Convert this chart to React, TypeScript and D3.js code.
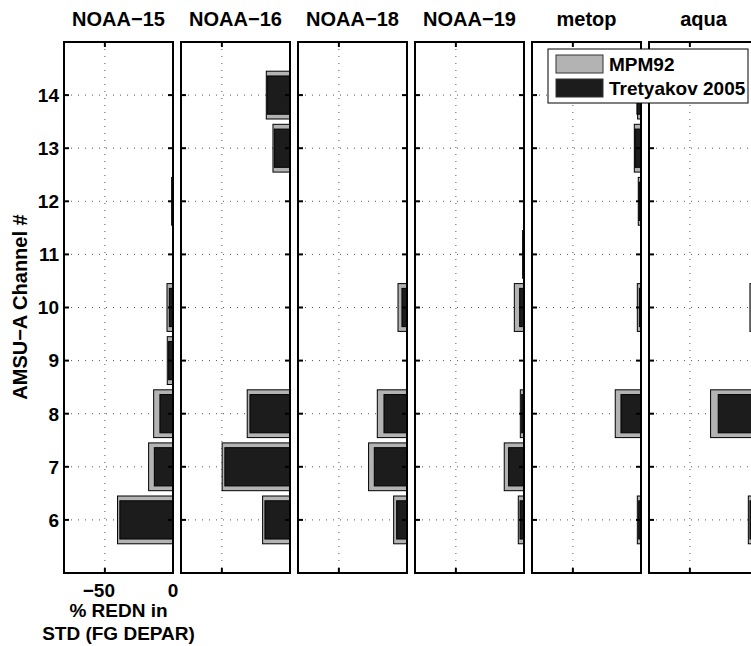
import React, { useEffect, useRef } from "react";
import * as d3 from "d3";

// satellites (panel titles)
const satellites = ["NOAA\u221215", "NOAA\u221216", "NOAA\u221218", "NOAA\u221219", "metop", "aqua"];
// AMSU-A channels shown on the y axis
const channels = [6, 7, 8, 9, 10, 11, 12, 13, 14];
// % reduction in std of FG departures, one row per satellite, one value per channel
const mpm92 = [
  [-40.7, -17.9, -14.2, -4.2, -4.4, 0, -1.0, 0, 0],
  [-20.1, -49.8, -31.4, 0, 0, 0, 0, -12.5, -17.4],
  [-9.8, -28.2, -21.8, 0, -6.6, 0, 0, 0, 0],
  [-4.2, -14.5, -2.7, 0, -7.1, -1.0, 0, 0, 0],
  [-2.7, 0, -18.9, 0, -2.7, 0, -2.0, -4.9, -2.5],
  [-7.1, 0, -34.8, 0, -5.9, 0, 0, 0, 0],
];
const tretyakov = [
  [-39.0, -13.7, -9.6, -3.2, -2.7, 0, -0.6, 0, 0],
  [-18.4, -47.8, -29.4, 0, 0, 0, 0, -11.5, -16.7],
  [-7.6, -24.0, -16.9, 0, -3.7, 0, 0, 0, 0],
  [-2.9, -11.3, -1.7, 0, -3.2, -0.6, 0, 0, 0],
  [-1.7, 0, -14.7, 0, -1.2, 0, -1.5, -4.4, -3.0],
  [-5.9, 0, -29.2, 0, -4.0, 0, 0, 0, 0],
];
const xTicks = [-50, 0];
const seriesNames = ["MPM92", "Tretyakov 2005"];
const seriesColors = ["#b3b3b3", "#1c1c1c"];

export default function App() {
  const ref = useRef(null);

  useEffect(() => {
    const svg = d3.select(ref.current);
    svg.selectAll("*").remove();

    const margin = { top: 42, left: 64 };
    const w = 109,
      h = 531,
      gap = 8;
    const font = "'Liberation Sans', Arial, Helvetica, sans-serif";

    const y = d3.scaleLinear().domain([5, 15]).range([margin.top + h, margin.top]);
    const band = (c, width) => ({ y: y(c + width / 2), h: y(c - width / 2) - y(c + width / 2) });

    satellites.forEach((name, i) => {
      const left = margin.left + i * (w + gap);
      const x = d3.scaleLinear().domain([-80, 0]).range([left, left + w]);
      const g = svg.append("g");

      // dotted grid
      g.selectAll(".hgrid")
        .data(channels)
        .join("line")
        .attr("x1", x(-80))
        .attr("x2", x(0))
        .attr("y1", (d) => y(d))
        .attr("y2", (d) => y(d))
        .attr("stroke", "#555")
        .attr("stroke-width", 1)
        .attr("stroke-dasharray", "1 6");
      g.selectAll(".vgrid")
        .data(xTicks.filter((t) => t > -80 && t < 0))
        .join("line")
        .attr("x1", (d) => x(d))
        .attr("x2", (d) => x(d))
        .attr("y1", margin.top)
        .attr("y2", margin.top + h)
        .attr("stroke", "#555")
        .attr("stroke-width", 1)
        .attr("stroke-dasharray", "1 6");

      // bars: MPM92 wide, Tretyakov narrower on top
      [mpm92[i], tretyakov[i]].forEach((vals, s) => {
        const bw = s === 0 ? 0.9 : 0.72;
        const rows = channels.map((c, k) => ({ c, v: vals[k] })).filter((d) => d.v !== 0);
        g.selectAll(".bar" + s)
          .data(rows)
          .join("rect")
          .attr("x", (d) => x(d.v))
          .attr("width", (d) => x(0) - x(d.v))
          .attr("y", (d) => band(d.c, bw).y)
          .attr("height", (d) => band(d.c, bw).h)
          .attr("fill", seriesColors[s])
          .attr("stroke", "#000")
          .attr("stroke-width", 1);
      });

      // inside ticks
      g.selectAll(".ytickL")
        .data(channels)
        .join("line")
        .attr("x1", left)
        .attr("x2", left + 5)
        .attr("y1", (d) => y(d))
        .attr("y2", (d) => y(d))
        .attr("stroke", "#000")
        .attr("stroke-width", 2);
      g.selectAll(".ytickR")
        .data(channels)
        .join("line")
        .attr("x1", left + w - 5)
        .attr("x2", left + w)
        .attr("y1", (d) => y(d))
        .attr("y2", (d) => y(d))
        .attr("stroke", "#000")
        .attr("stroke-width", 2);
      g.selectAll(".xtick")
        .data([margin.top, margin.top + h - 5])
        .join("line")
        .attr("x1", x(-50))
        .attr("x2", x(-50))
        .attr("y1", (d) => d)
        .attr("y2", (d) => d + 5)
        .attr("stroke", "#000")
        .attr("stroke-width", 2);

      // panel box
      g.append("rect")
        .attr("x", left)
        .attr("y", margin.top)
        .attr("width", w)
        .attr("height", h)
        .attr("fill", "none")
        .attr("stroke", "#000")
        .attr("stroke-width", 2);

      g.append("text")
        .attr("x", left + w / 2)
        .attr("y", 26)
        .attr("text-anchor", "middle")
        .style("font-family", font)
        .style("font-weight", "bold")
        .style("font-size", "20px")
        .text(name);

      if (i === 0) {
        g.selectAll(".ylab")
          .data(channels)
          .join("text")
          .attr("x", left - 5)
          .attr("y", (d) => y(d))
          .attr("dy", "0.36em")
          .attr("text-anchor", "end")
          .style("font-family", font)
          .style("font-weight", "bold")
          .style("font-size", "19px")
          .text((d) => d);
        g.selectAll(".xlab")
          .data(xTicks)
          .join("text")
          .attr("x", (d) => x(d) - (d < 0 ? 6 : 0))
          .attr("y", 597)
          .attr("text-anchor", "middle")
          .style("font-family", font)
          .style("font-weight", "bold")
          .style("font-size", "19px")
          .text((d) => (d < 0 ? "\u2212" + Math.abs(d) : d));
        g.selectAll(".xtitle")
          .data(["% REDN in", "STD (FG DEPAR)"])
          .join("text")
          .attr("x", left + w / 2)
          .attr("y", (d, k) => 617 + k * 23)
          .attr("text-anchor", "middle")
          .style("font-family", font)
          .style("font-weight", "bold")
          .style("font-size", "19px")
          .text((d) => d);
      }
    });

    svg
      .append("text")
      .attr("transform", "translate(27, 307) rotate(-90)")
      .attr("text-anchor", "middle")
      .style("font-family", font)
      .style("font-weight", "bold")
      .style("font-size", "20px")
      .text("AMSU\u2212A Channel #");

    // legend
    const lg = svg.append("g").attr("transform", "translate(548, 49)");
    lg.append("rect")
      .attr("width", 200)
      .attr("height", 54)
      .attr("fill", "#fff")
      .attr("stroke", "#000")
      .attr("stroke-width", 1);
    seriesNames.forEach((s, k) => {
      lg.append("rect")
        .attr("x", 8)
        .attr("y", 6 + k * 24)
        .attr("width", 47)
        .attr("height", 18)
        .attr("fill", seriesColors[k])
        .attr("stroke", "#333")
        .attr("stroke-width", 1);
      lg.append("text")
        .attr("x", 61)
        .attr("y", 22 + k * 24)
        .style("font-family", font)
        .style("font-weight", "bold")
        .style("font-size", "19px")
        .text(s);
    });
  }, []);

  return (
    <svg
      ref={ref}
      width={751}
      height={646}
      style={{ position: "absolute", left: 0, top: 0, background: "#fff" }}
    />
  );
}
